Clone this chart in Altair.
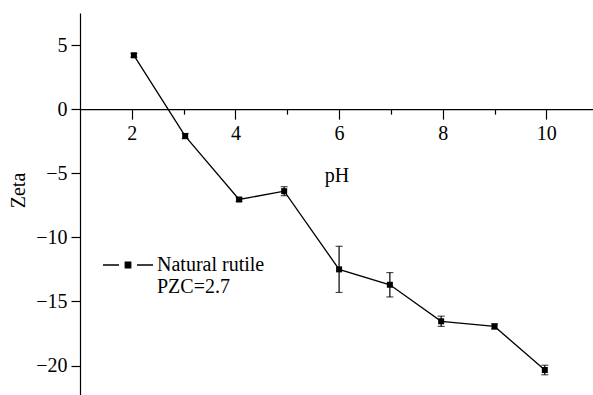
import altair as alt
import pandas as pd

ph = [2.04, 3.03, 4.07, 4.94, 6.0, 6.98, 7.97, 9.0, 9.97]
zeta = [4.2, -2.1, -7.05, -6.4, -12.5, -13.7, -16.55, -16.95, -20.35]
err = [0.15, 0.2, 0.15, 0.35, 1.8, 0.95, 0.4, 0.2, 0.37]

x_ticks = [2, 3, 4, 5, 6, 7, 8, 9, 10]
y_ticks = [-20, -17.5, -15, -12.5, -10, -7.5, -5, -2.5, 0, 2.5, 5, 7.5]
series_name = "Natural rutile"
legend_lines = ["Natural rutile", "PZC=2.7"]

df = pd.DataFrame({"pH": ph, "Zeta": zeta, "err": err})
df["lo"] = df["Zeta"] - df["err"]
df["hi"] = df["Zeta"] + df["err"]

FONT = "Liberation Serif"
W, H = 513, 382
Y_DOM = [-22.3, 7.5]
X_DOM = [1, 10.9]
x_offset = -H * (0 - Y_DOM[0]) / (Y_DOM[1] - Y_DOM[0])

xscale = alt.Scale(domain=X_DOM, nice=False, zero=False)
yscale = alt.Scale(domain=Y_DOM, nice=False, zero=False)

x_axis = alt.Axis(
    values=x_ticks, offset=x_offset, grid=False,
    labelExpr="datum.value % 2 === 0 ? datum.label : ''",
    tickSize={"condition": {"test": "datum.value % 2 === 0", "value": 10}, "value": 5},
    labelPadding=4, title="pH", titlePadding=22,
    labelFont=FONT, labelFontSize=20, titleFont=FONT, titleFontSize=20,
)
y_axis = alt.Axis(
    values=y_ticks, grid=False,
    labelExpr="datum.value % 5 === 0 ? datum.label : ''",
    tickSize={"condition": {"test": "datum.value % 5 === 0", "value": 9}, "value": 5},
    labelPadding=4, title="Zeta",
    labelFont=FONT, labelFontSize=20, titleFont=FONT, titleFontSize=20,
    titleAngle=270, titleX=-62, titleY=177, titleAlign="center", titleBaseline="middle",
)

x = alt.X("pH:Q", scale=xscale, axis=x_axis)
y = alt.Y("Zeta:Q", scale=yscale, axis=y_axis)

color = alt.Color(
    "series:N",
    scale=alt.Scale(domain=[series_name], range=["black"]),
    legend=alt.Legend(
        title=None, orient="none", legendX=22, legendY=226,
        symbolType="M-1,0H-0.36M0.36,0H1M-0.11,-0.11H0.11V0.11H-0.11Z",
        symbolSize=2500, symbolStrokeWidth=1.3, symbolStrokeColor="black",
        symbolFillColor="black", labelOffset=3,
        labelExpr="['" + legend_lines[0] + "', '" + legend_lines[1] + "']",
        labelFont=FONT, labelFontSize=20, labelColor="black",
    ),
)

base = alt.Chart(df).transform_calculate(series="'" + series_name + "'")

line = base.mark_line(color="black", strokeWidth=1.3).encode(x=x, y=y, color=color)
rules = base.mark_rule(color="black", strokeWidth=1.2).encode(
    x=alt.X("pH:Q", scale=xscale), y=alt.Y("lo:Q", scale=yscale), y2="hi:Q"
)
cap_lo = base.mark_tick(color="black", orient="horizontal", size=7, thickness=1.2).encode(
    x=alt.X("pH:Q", scale=xscale), y=alt.Y("lo:Q", scale=yscale)
)
cap_hi = base.mark_tick(color="black", orient="horizontal", size=7, thickness=1.2).encode(
    x=alt.X("pH:Q", scale=xscale), y=alt.Y("hi:Q", scale=yscale)
)
pts = base.mark_square(color="black", size=36, opacity=1, filled=True).encode(
    x=alt.X("pH:Q", scale=xscale), y=alt.Y("Zeta:Q", scale=yscale)
)

chart = (
    alt.layer(line, rules, cap_lo, cap_hi, pts)
    .properties(
        width=W, height=H,
        autosize=alt.AutoSizeParams(type="none"),
        padding={"left": 80, "top": 13, "right": 0, "bottom": 0},
        background="white",
    )
    .configure(font=FONT)
    .configure_view(stroke=None)
    .configure_axis(
        labelFont=FONT, labelFontSize=20, labelColor="black",
        titleFont=FONT, titleFontSize=20, titleColor="black", titleFontWeight="normal",
        domainColor="black", domainWidth=1.2, tickColor="black", tickWidth=1.2,
    )
    .configure_legend(labelFont=FONT, labelFontSize=20, labelColor="black")
)

chart.save("out.html", embed_options={"renderer": "svg", "actions": False})
